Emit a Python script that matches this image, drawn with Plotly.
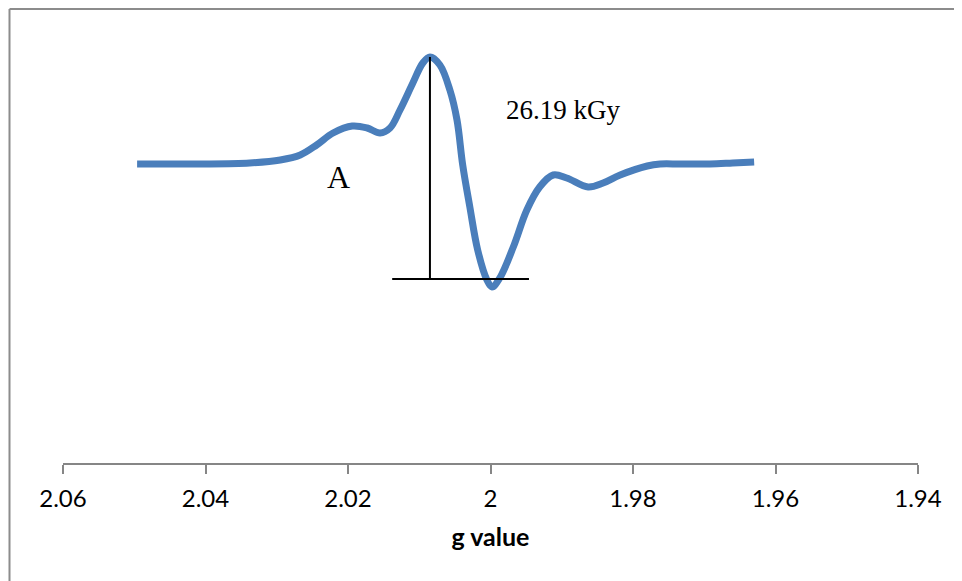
import plotly.graph_objects as go

# EPR spectrum (g value vs. signal, arbitrary units)
g_values = [2.0496, 2.0408, 2.0338, 2.0295, 2.0267, 2.0244, 2.0221, 2.0194, 2.0173,
            2.0155, 2.0141, 2.0127, 2.0109, 2.0095, 2.0085, 2.0071, 2.0057, 2.0047,
            2.0039, 2.0029, 2.0018, 2.0005, 1.9998, 1.9987, 1.9968, 1.9949, 1.9931,
            1.9912, 1.9893, 1.9863, 1.9842, 1.9818, 1.9780, 1.9762, 1.9734, 1.9692,
            1.9660, 1.9630]
signal = [-0.01, -0.01, 0.00, 0.03, 0.08, 0.18, 0.30, 0.37, 0.35,
          0.30, 0.35, 0.53, 0.80, 1.00, 1.06, 0.98, 0.73, 0.43,
          -0.02, -0.44, -0.87, -1.17, -1.24, -1.15, -0.84, -0.47, -0.24,
          -0.12, -0.15, -0.24, -0.20, -0.12, -0.03, -0.01, -0.01, -0.01,
          0.00, 0.01]

tick_vals = [2.06, 2.04, 2.02, 2.00, 1.98, 1.96, 1.94]
tick_text = ["2.06", "2.04", "2.02", "2", "1.98", "1.96", "1.94"]

# peak-to-peak marker lines
vline_g = 2.0085
vline_y = [1.06, -1.16]
hline_g = [2.0138, 1.9946]
hline_y = -1.16

label_text = "26.19 kGy"
label_pos = (1.9898, 0.53)
mark_text = "A"
mark_pos = (2.0213, -0.14)

fig = go.Figure()
fig.add_trace(go.Scatter(
    x=g_values, y=signal, mode="lines",
    line=dict(color="#4A7EBB", width=7, shape="spline", smoothing=1.0),
    showlegend=False, hoverinfo="skip"))

fig.add_shape(type="line", xref="x", yref="y", x0=vline_g, x1=vline_g,
              y0=vline_y[0], y1=vline_y[1], line=dict(color="black", width=2))
fig.add_shape(type="line", xref="x", yref="y", x0=hline_g[0], x1=hline_g[1],
              y0=hline_y, y1=hline_y, line=dict(color="black", width=2))

# page has an 8px body margin: compensate so the plot area lands at
# x 63..918, y 20..463 of the window
OFF = 8
W, H = 962, 581
L, T = 63 - OFF, 20 - OFF
R = W + OFF - 918
B = H + OFF - 463
pw, ph = W - L - R, H - T - B
bx = (9.5 - 63) / pw
by = (463 - 9) / ph
fig.add_shape(type="line", xref="paper", yref="paper", x0=bx, x1=1.2, y0=by, y1=by,
              line=dict(color="#8C8C8C", width=2))
fig.add_shape(type="line", xref="paper", yref="paper", x0=bx, x1=bx, y0=by, y1=-0.5,
              line=dict(color="#8C8C8C", width=2))

fig.add_annotation(x=label_pos[0], y=label_pos[1], text=label_text, showarrow=False,
                   font=dict(family="Liberation Serif", size=27, color="black"))
fig.add_annotation(x=mark_pos[0], y=mark_pos[1], text=mark_text, showarrow=False,
                   font=dict(family="Liberation Serif", size=32, color="black"))

fig.update_layout(
    width=W, height=H,
    margin=dict(l=L, r=R, t=T, b=B),
    paper_bgcolor="white", plot_bgcolor="white",
    xaxis=dict(range=[2.06, 1.94], tickvals=tick_vals, ticktext=tick_text,
               showline=True, linecolor="#868686", linewidth=2,
               ticks="outside", ticklen=9, tickwidth=2, tickcolor="#868686",
               showgrid=False, zeroline=False, ticklabelstandoff=4,
               tickfont=dict(family="Lato", size=24, color="black"),
               title=dict(text="<b>g value</b>", standoff=18,
                          font=dict(family="Lato", size=25, color="black"))),
    yaxis=dict(range=[-3.0, 1.43], visible=False),
)

fig.write_html("out.html")
